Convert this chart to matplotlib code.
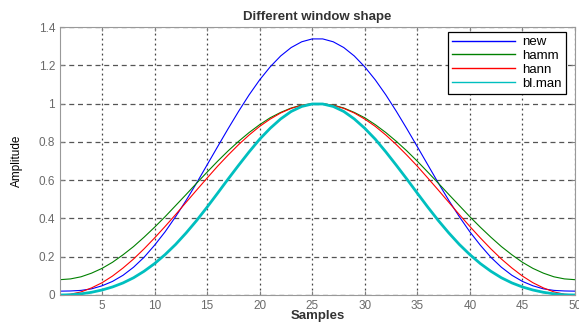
import matplotlib
matplotlib.use('Agg')
import matplotlib.pyplot as plt
from matplotlib.lines import Line2D

plt.rcParams['font.family'] = ['Liberation Sans', 'DejaVu Sans']

# sample index 1..50
samples = list(range(1, 51))

new_win = [0.020, 0.021, 0.024, 0.032, 0.048, 0.071, 0.103, 0.145, 0.197, 0.260,
           0.330, 0.409, 0.494, 0.585, 0.680, 0.775, 0.869, 0.960, 1.046, 1.124,
           1.192, 1.249, 1.293, 1.323, 1.338, 1.338, 1.323, 1.293, 1.249, 1.192,
           1.124, 1.046, 0.960, 0.869, 0.775, 0.680, 0.585, 0.494, 0.409, 0.330,
           0.260, 0.197, 0.145, 0.103, 0.071, 0.048, 0.032, 0.024, 0.021, 0.020]

hamm = [0.080, 0.084, 0.095, 0.114, 0.139, 0.171, 0.210, 0.253, 0.302, 0.354,
        0.409, 0.467, 0.525, 0.584, 0.642, 0.699, 0.753, 0.803, 0.849, 0.890,
        0.926, 0.954, 0.977, 0.992, 0.999, 0.999, 0.992, 0.977, 0.954, 0.926,
        0.890, 0.849, 0.803, 0.753, 0.699, 0.642, 0.584, 0.525, 0.467, 0.409,
        0.354, 0.302, 0.253, 0.210, 0.171, 0.139, 0.114, 0.095, 0.084, 0.080]

hann = [0.000, 0.004, 0.016, 0.037, 0.064, 0.099, 0.141, 0.188, 0.241, 0.298,
        0.358, 0.420, 0.484, 0.548, 0.611, 0.673, 0.731, 0.786, 0.836, 0.881,
        0.919, 0.951, 0.975, 0.991, 0.999, 0.999, 0.991, 0.975, 0.951, 0.919,
        0.881, 0.836, 0.786, 0.731, 0.673, 0.611, 0.548, 0.484, 0.420, 0.358,
        0.298, 0.241, 0.188, 0.141, 0.099, 0.064, 0.037, 0.016, 0.004, 0.000]

blman = [0.000, 0.001, 0.006, 0.014, 0.026, 0.042, 0.063, 0.090, 0.124, 0.164,
         0.211, 0.264, 0.324, 0.389, 0.459, 0.532, 0.606, 0.678, 0.748, 0.814,
         0.871, 0.920, 0.959, 0.985, 0.998, 0.998, 0.985, 0.959, 0.920, 0.871,
         0.814, 0.748, 0.678, 0.606, 0.532, 0.459, 0.389, 0.324, 0.264, 0.211,
         0.164, 0.124, 0.090, 0.063, 0.042, 0.026, 0.014, 0.006, 0.001, 0.000]

names = ['new', 'hamm', 'hann', 'bl.man']
colors = ['#0000ff', '#008000', '#ff0000', '#00bfbf']
xticks = [5, 10, 15, 20, 25, 30, 35, 40, 45, 50]
yticks = [0, 0.2, 0.4, 0.6, 0.8, 1.0, 1.2, 1.4]
ytick_labels = ['0', '0.2', '0.4', '0.6', '0.8', '1', '1.2', '1.4']

fig = plt.figure(figsize=(5.79, 3.22), dpi=100)
ax = fig.add_axes([0.1036, 0.0839, 0.8894, 0.8321])

widths = [0.8, 0.8, 0.8, 2.0]
for ys, c, w, n in zip([new_win, hamm, hann, blman], colors, widths, names):
    ax.plot(samples, ys, color=c, lw=w, label=n)

ax.set_xlim(1, 50)
ax.set_ylim(0, 1.4)
ax.set_xticks(xticks)
ax.set_yticks(yticks)
ax.set_yticklabels(ytick_labels)

# matlab-ish grid: dotted verticals, dashed horizontals
ax.xaxis.grid(True, linestyle=(0, (1.5, 2.5)), color='#444444', lw=0.9)
ax.yaxis.grid(True, linestyle=(0, (4, 3)), color='#555555', lw=0.9)
ax.set_axisbelow(True)

for sp in ax.spines.values():
    sp.set_color('#999999')
ax.tick_params(colors='#7f7f7f', labelsize=8.5, length=3, direction='in',
               top=True, right=True)
for lab in ax.get_xticklabels() + ax.get_yticklabels():
    lab.set_color('#6a6a6a')

ax.set_title('Different window shape', fontsize=9.5, fontweight='bold',
             color='#333333', pad=5)
ax.set_xlabel('Samples', fontsize=9.5, fontweight='bold', color='#333333',
              labelpad=-1)
ax.set_ylabel('Amplitude', fontsize=8.5,
              family=['Liberation Sans Narrow', 'Liberation Sans'], labelpad=11)

# legend lines all drawn thin, like the reference
handles = [Line2D([], [], color=c, lw=1.0) for c in colors]
leg = ax.legend(handles, names, loc='upper right', fontsize=9.5,
                bbox_to_anchor=(566 / 579, 1 - 32 / 322),
                bbox_transform=fig.transFigure, borderaxespad=0,
                handlelength=4.8, handletextpad=0.55, fancybox=False,
                framealpha=1, edgecolor='black', labelspacing=0.12,
                borderpad=0.3)
leg.get_frame().set_linewidth(0.9)

fig.savefig('out.png', dpi=100)
